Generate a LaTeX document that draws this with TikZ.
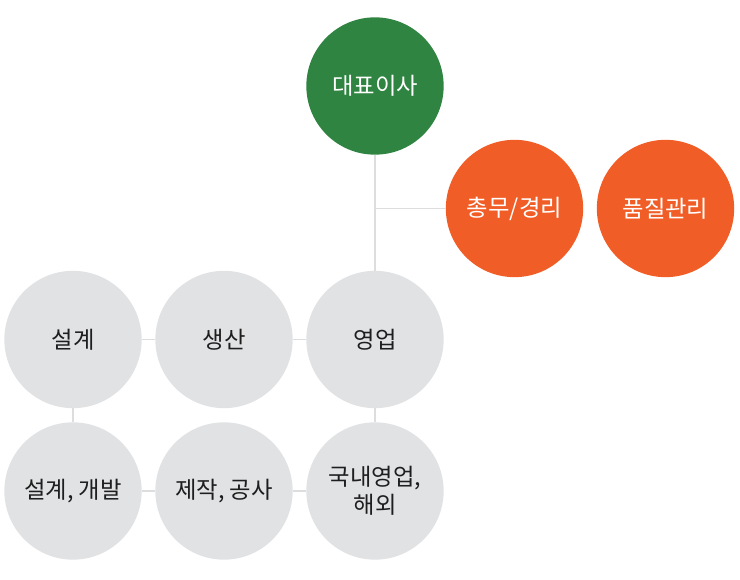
\documentclass[tikz,border=0pt]{standalone}
\usepackage{fontspec}
\setmainfont{Noto Sans CJK KR}
\usepackage{xcolor}
\definecolor{ceogreen}{RGB}{46,132,64}
\definecolor{staffred}{RGB}{241,93,38}
\definecolor{teamgray}{RGB}{225,226,228}
\definecolor{linegray}{RGB}{220,221,223}
\definecolor{textdark}{RGB}{30,30,30}
\tikzset{
  dot/.style = {circle, fill=#1, minimum size=103pt,
                inner sep=0pt, outer sep=0pt, align=center,
                font=\fontsize{17.5}{21}\selectfont},
  dot/.default = teamgray,
  link/.style = {draw=linegray, line width=0.8pt}
}

\begin{document}
\begin{tikzpicture}[x=0.75pt, y=-0.75pt]
	\def \dx{151}
	\def \dy{151.5}
	\useasboundingbox (0,0) rectangle (740,580);

	% Top
	\node[dot=ceogreen, text=white] (ceo) at (375,86) {대표이사};
	\node[dot=staffred, text=white] (admin) at (514.5,208.5) {총무/경리};
	\node[dot=staffred, text=white] (quality) at (514.5+\dx,208.5) {품질관리};

	% Teams
	\node[dot, text=textdark] (sales)  at (375,339.5) {영업};
	\node[dot, text=textdark] (prod)   at (375-\dx,339.5) {생산};
	\node[dot, text=textdark] (design) at (375-2*\dx,339.5) {설계};

	% Sub teams
	\node[dot, text=textdark] (domestic) at (375,339.5+\dy) {국내영업,\\해외};
	\node[dot, text=textdark] (build)    at (375-\dx,339.5+\dy) {제작, 공사};
	\node[dot, text=textdark] (develop)  at (375-2*\dx,339.5+\dy) {설계, 개발};

	% Lines
	\coordinate (branch) at (ceo.south |- admin.west);
	\draw[link] (ceo.south) -- (sales.north);
	\draw[link] (branch) -- (admin.west);
	\draw[link] (sales.west) -- (prod.east);
	\draw[link] (prod.west) -- (design.east);
	\draw[link] (design.south) -- (develop.north);
	\draw[link] (develop.east) -- (build.west);
	\draw[link] (build.east) -- (domestic.west);
	\draw[link] (sales.south) -- (domestic.north);
\end{tikzpicture}
\end{document}
